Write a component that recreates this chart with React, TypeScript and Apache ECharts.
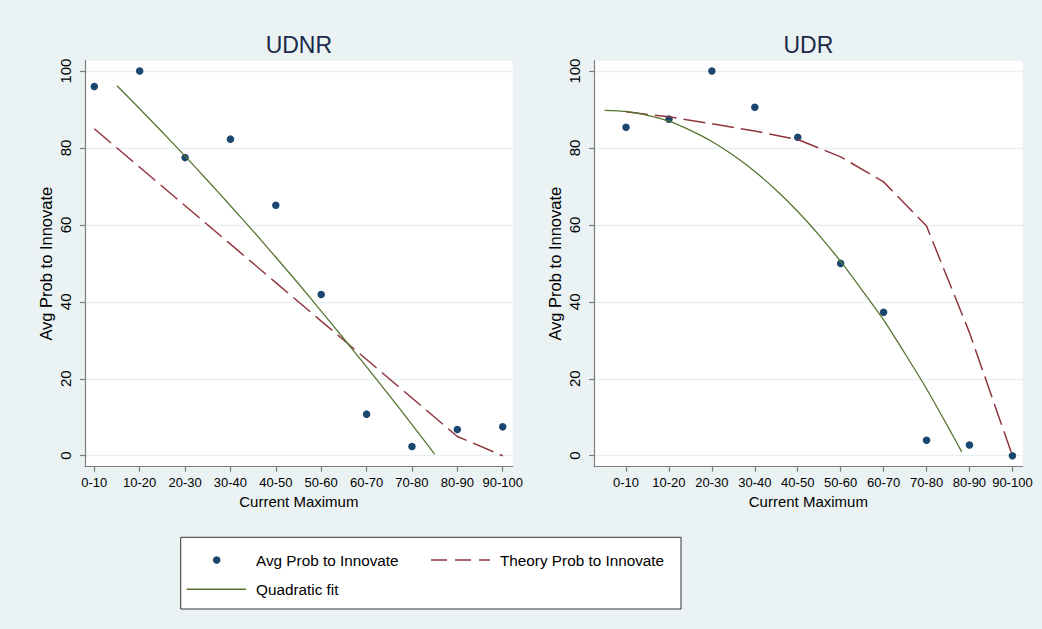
import React, { useEffect, useRef } from "react";
import * as echarts from "echarts";

// Bins of the current maximum
const categories = ["0-10", "10-20", "20-30", "30-40", "40-50", "50-60", "60-70", "70-80", "80-90", "90-100"];
const binPositions = [1, 2, 3, 4, 5, 6, 7, 8, 9, 10];
const yTicks = [0, 20, 40, 60, 80, 100];

// UDNR panel
const udnrAvg = [96.0, 100, 77.5, 82.3, 65.1, 41.9, 10.8, 2.4, 6.8, 7.5];
const udnrTheory = [85, 75, 65, 55, 45, 35, 25, 15, 5, 0];
const udnrFitX = [1.5, 2, 2.5, 3, 3.5, 4, 4.5, 5, 5.5, 6, 6.5, 7, 7.5, 8, 8.5];
const udnrFitY = [96.2, 90.2, 84.1, 77.9, 71.5, 65.0, 58.4, 51.6, 44.7, 37.6, 30.4, 23.1, 15.7, 8.1, 0.4];

// UDR panel
const udrAvg = [85.4, 87.5, 100, 90.6, 82.8, 50.0, 37.3, 4.0, 2.8, 0];
const udrTheory = [89.4, 88.1, 86.3, 84.4, 82.2, 77.7, 71.2, 59.7, 32.0, 0];
const udrFitX = [0.5, 1, 1.5, 2, 2.5, 3, 3.5, 4, 4.5, 5, 5.5, 6, 6.5, 7, 7.5, 8, 8.5, 8.82];
const udrFitY = [89.8, 89.5, 88.5, 87.0, 84.6, 81.7, 78.1, 73.9, 69.0, 63.5, 57.3, 50.5, 43.0, 35.3, 26.5, 17.4, 7.5, 1.0];

const FONT = "'Liberation Sans', Arial, Helvetica, sans-serif";
const BG = "#eaf2f3";
const NAVY = "#1a476f";
const MAROON = "#90353b";
const GREEN = "#55752f";
const AXIS = "#7d7d7d";
const TITLE = "#1c2a48";

const panels = [
  { title: "UDNR", left: 85, width: 427.7, xMin: 0.795, xMax: 10.22, avg: udnrAvg, theory: udnrTheory, fitX: udnrFitX, fitY: udnrFitY },
  { title: "UDR", left: 594, width: 428.7, xMin: 0.254, xMax: 10.24, avg: udrAvg, theory: udrTheory, fitX: udrFitX, fitY: udrFitY },
];

const PLOT_TOP = 60.7;
const PLOT_HEIGHT = 406;

function buildOption(): echarts.EChartsOption {
  const grid: any[] = [];
  const xAxis: any[] = [];
  const yAxis: any[] = [];
  const series: any[] = [];
  const graphic: any[] = [];

  panels.forEach((p, i) => {
    grid.push({
      left: p.left,
      top: PLOT_TOP,
      width: p.width,
      height: PLOT_HEIGHT,
      show: true,
      backgroundColor: "#ffffff",
      borderWidth: 0,
    });
    xAxis.push({
      type: "value",
      gridIndex: i,
      min: p.xMin,
      max: p.xMax,
      position: "bottom",
      axisLine: { show: true, onZero: false, lineStyle: { color: AXIS, width: 1.2 } },
      axisTick: { show: true, customValues: binPositions, length: 5, lineStyle: { color: AXIS, width: 1.2 } },
      axisLabel: {
        customValues: binPositions,
        formatter: (v: number) => categories[Math.round(v) - 1] ?? "",
        fontSize: 13,
        color: "#000",
        margin: 9,
        fontFamily: FONT,
      },
      splitLine: { show: false },
      name: "Current Maximum",
      nameLocation: "middle",
      nameGap: 27,
      nameTextStyle: { fontSize: 15, color: "#000", fontFamily: FONT },
    });
    yAxis.push({
      type: "value",
      gridIndex: i,
      min: -2.86,
      max: 102.7,
      position: "left",
      axisLine: { show: true, onZero: false, lineStyle: { color: AXIS, width: 1.2 } },
      axisTick: { show: true, customValues: yTicks, length: 5, lineStyle: { color: AXIS, width: 1.2 } },
      axisLabel: { customValues: yTicks, rotate: 90, fontSize: 15, color: "#000", margin: 12, fontFamily: FONT },
      splitLine: { show: true, lineStyle: { color: "#e8f0f2", width: 1.3 } },
      name: "Avg Prob to Innovate",
      nameLocation: "middle",
      nameGap: 31,
      nameTextStyle: { fontSize: 16.5, color: "#000", fontFamily: FONT },
    });

    series.push({
      type: "scatter",
      name: "Avg Prob to Innovate",
      xAxisIndex: i,
      yAxisIndex: i,
      data: p.avg.map((v, k) => [binPositions[k], v]),
      symbol: "circle",
      symbolSize: 7.5,
      itemStyle: { color: NAVY, opacity: 1 },
      z: 3,
    });
    series.push({
      type: "line",
      name: "Theory Prob to Innovate",
      xAxisIndex: i,
      yAxisIndex: i,
      data: p.theory.map((v, k) => [binPositions[k], v]),
      symbol: "none",
      lineStyle: { color: MAROON, width: 1.5, type: [22, 7] },
      itemStyle: { color: MAROON },
      clip: false,
      z: 4,
    });
    series.push({
      type: "line",
      name: "Quadratic fit",
      xAxisIndex: i,
      yAxisIndex: i,
      data: p.fitX.map((x, k) => [x, p.fitY[k]]),
      symbol: "none",
      smooth: 0.2,
      lineStyle: { color: GREEN, width: 1.3 },
      itemStyle: { color: GREEN },
      clip: false,
      z: 5,
    });

    graphic.push({
      type: "text",
      x: p.left + p.width / 2,
      y: 44.5,
      style: {
        text: p.title,
        fontSize: 23,
        fontFamily: FONT,
        fill: TITLE,
        textAlign: "center",
        textVerticalAlign: "middle",
      },
    });
  });

  // Legend box
  const legendText = (text: string, x: number, y: number) => ({
    type: "text",
    x,
    y,
    style: { text, fontSize: 15.3, fontFamily: FONT, fill: "#000", textAlign: "left", textVerticalAlign: "middle" },
  });
  graphic.push({
    type: "group",
    children: [
      {
        type: "rect",
        shape: { x: 180.7, y: 537.3, width: 500.3, height: 71.7 },
        style: { fill: "#ffffff", stroke: "#333333", lineWidth: 1 },
      },
      { type: "circle", shape: { cx: 216.7, cy: 560, r: 3.8 }, style: { fill: NAVY } },
      legendText("Avg Prob to Innovate", 256, 560),
      {
        type: "line",
        shape: { x1: 431, y1: 560, x2: 490, y2: 560 },
        style: { stroke: MAROON, lineWidth: 1.5, lineDash: [16, 8] },
      },
      legendText("Theory Prob to Innovate", 500, 560),
      {
        type: "line",
        shape: { x1: 186.7, y1: 589.3, x2: 246, y2: 589.3 },
        style: { stroke: GREEN, lineWidth: 1.5 },
      },
      legendText("Quadratic fit", 256, 589.3),
    ],
  });

  return {
    animation: false,
    backgroundColor: BG,
    textStyle: { fontFamily: FONT },
    grid,
    xAxis,
    yAxis,
    series,
    graphic,
  };
}

export default function App() {
  const ref = useRef<HTMLDivElement>(null);
  useEffect(() => {
    if (!ref.current) return;
    const chart = echarts.init(ref.current, undefined, { renderer: "svg" });
    chart.setOption(buildOption());
    return () => chart.dispose();
  }, []);
  return (
    <div
      ref={ref}
      style={{ position: "absolute", left: 0, top: 0, width: 1042, height: 629 }}
    />
  );
}
